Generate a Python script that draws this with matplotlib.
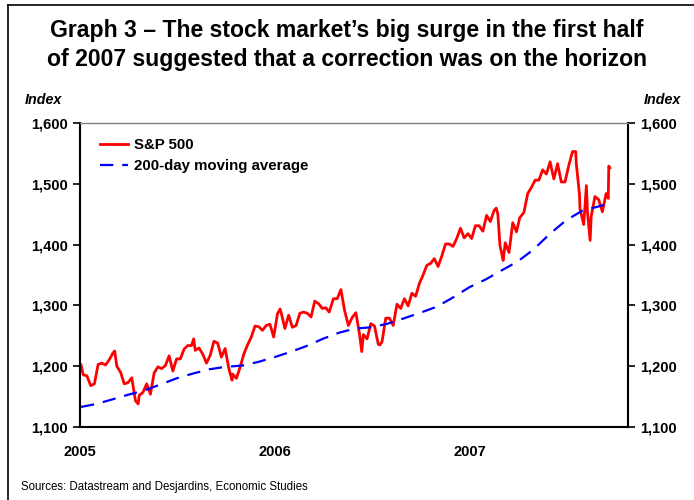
import matplotlib
matplotlib.use('Agg')
import matplotlib.pyplot as plt
from matplotlib.lines import Line2D
from matplotlib.ticker import FuncFormatter
import pandas as pd

plt.rcParams['font.family'] = ['Liberation Sans', 'DejaVu Sans']

# S&P 500 (weekly closes plus a few daily extremes)
sp_dates = [
    '2005-01-03', '2005-01-07', '2005-01-14', '2005-01-21', '2005-01-28', '2005-02-04', '2005-02-11',
    '2005-02-18', '2005-02-25', '2005-03-04', '2005-03-07', '2005-03-11', '2005-03-18', '2005-03-25',
    '2005-04-01', '2005-04-08', '2005-04-15', '2005-04-20', '2005-04-22', '2005-04-29', '2005-05-06',
    '2005-05-13', '2005-05-20', '2005-05-27', '2005-06-03', '2005-06-10', '2005-06-17', '2005-06-24',
    '2005-07-01', '2005-07-08', '2005-07-15', '2005-07-22', '2005-07-29', '2005-08-02', '2005-08-05',
    '2005-08-12', '2005-08-19', '2005-08-26', '2005-09-02', '2005-09-09', '2005-09-16', '2005-09-23',
    '2005-09-30', '2005-10-07', '2005-10-13', '2005-10-14', '2005-10-21', '2005-10-28', '2005-11-04',
    '2005-11-11', '2005-11-18', '2005-11-25', '2005-12-02', '2005-12-09', '2005-12-16', '2005-12-23',
    '2005-12-30',
    '2006-01-06', '2006-01-11', '2006-01-13', '2006-01-20', '2006-01-27', '2006-02-03', '2006-02-10',
    '2006-02-17', '2006-02-24', '2006-03-03', '2006-03-10', '2006-03-17', '2006-03-24', '2006-03-31',
    '2006-04-07', '2006-04-13', '2006-04-21', '2006-04-28', '2006-05-05', '2006-05-12', '2006-05-19',
    '2006-05-26', '2006-06-02', '2006-06-09', '2006-06-13', '2006-06-16', '2006-06-23', '2006-06-30',
    '2006-07-07', '2006-07-14', '2006-07-17', '2006-07-21', '2006-07-28', '2006-08-04', '2006-08-11',
    '2006-08-18', '2006-08-25', '2006-09-01', '2006-09-08', '2006-09-15', '2006-09-22', '2006-09-29',
    '2006-10-06', '2006-10-13', '2006-10-20', '2006-10-27', '2006-11-03', '2006-11-10', '2006-11-17',
    '2006-11-24', '2006-12-01', '2006-12-08', '2006-12-15', '2006-12-22', '2006-12-29',
    '2007-01-05', '2007-01-12', '2007-01-19', '2007-01-26', '2007-02-02', '2007-02-09', '2007-02-16',
    '2007-02-20', '2007-02-23', '2007-02-27', '2007-03-02', '2007-03-05', '2007-03-09', '2007-03-16',
    '2007-03-23', '2007-03-30', '2007-04-05', '2007-04-13', '2007-04-20', '2007-04-27', '2007-05-04',
    '2007-05-11', '2007-05-18', '2007-05-25', '2007-06-01', '2007-06-08', '2007-06-15', '2007-06-22',
    '2007-06-29', '2007-07-06', '2007-07-13', '2007-07-19', '2007-07-20', '2007-07-26', '2007-07-27',
    '2007-08-03', '2007-08-08', '2007-08-10', '2007-08-15', '2007-08-17', '2007-08-24', '2007-08-31',
    '2007-09-07', '2007-09-14', '2007-09-18', '2007-09-19', '2007-09-21',
]
sp_values = [
    1202, 1186, 1184, 1168, 1171, 1203, 1205,
    1202, 1211, 1222, 1225, 1200, 1190, 1171,
    1173, 1181, 1143, 1138, 1152, 1157, 1171,
    1154, 1189, 1199, 1196, 1201, 1217, 1192,
    1212, 1212, 1228, 1234, 1234, 1245, 1226,
    1230, 1220, 1205, 1218, 1241, 1238, 1215,
    1229, 1196, 1177, 1187, 1180, 1198, 1220,
    1235, 1248, 1266, 1265, 1259, 1267, 1269,
    1248,
    1286, 1294, 1288, 1262, 1284, 1264, 1267,
    1287, 1289, 1287, 1281, 1307, 1303, 1295,
    1296, 1289, 1311, 1311, 1326, 1291, 1267,
    1280, 1288, 1252, 1224, 1252, 1245, 1270,
    1266, 1236, 1235, 1240, 1279, 1279, 1267,
    1302, 1295, 1311, 1299, 1320, 1315, 1336,
    1350, 1366, 1369, 1377, 1364, 1381, 1401,
    1401, 1397, 1410, 1427, 1411, 1418,
    1410, 1431, 1431, 1422, 1448, 1438, 1456,
    1460, 1451, 1399, 1387, 1374, 1403, 1387,
    1436, 1421, 1444, 1453, 1484, 1494, 1506,
    1506, 1523, 1516, 1536, 1508, 1533, 1503,
    1503, 1530, 1553, 1553, 1534, 1483, 1459,
    1433, 1497, 1454, 1407, 1446, 1479, 1474,
    1454, 1484, 1476, 1529, 1526,
]

# 200-day moving average, monthly readings
ma_dates = [
    '2005-01-03', '2005-02-01', '2005-03-01', '2005-04-01', '2005-05-01', '2005-06-01', '2005-07-01',
    '2005-08-01', '2005-09-01', '2005-10-01', '2005-11-01', '2005-12-01',
    '2006-01-01', '2006-02-01', '2006-03-01', '2006-04-01', '2006-05-01', '2006-06-01', '2006-07-01',
    '2006-08-01', '2006-09-01', '2006-10-01', '2006-11-01', '2006-12-01',
    '2007-01-01', '2007-02-01', '2007-03-01', '2007-04-01', '2007-05-01', '2007-06-01', '2007-07-01',
    '2007-08-01', '2007-09-01', '2007-09-21',
]
ma_values = [
    1133, 1138, 1145, 1153, 1160, 1170, 1180,
    1188, 1195, 1199, 1201, 1207,
    1215, 1224, 1233, 1245, 1255, 1262, 1264,
    1270, 1279, 1288, 1298, 1313,
    1330, 1343, 1357, 1372, 1392, 1418, 1440,
    1456, 1463, 1468,
]

year_ticks = ['2005-01-01', '2006-01-01', '2007-01-01']
year_labels = ['2005', '2006', '2007']

fig = plt.figure(figsize=(6.94, 5), dpi=100)
ax = fig.add_axes([80 / 694, 73 / 500, 548 / 694, 304 / 500])

ax.plot(pd.to_datetime(sp_dates), sp_values, color='#ff0000', lw=2.0, label='S&P 500')
ax.plot(pd.to_datetime(ma_dates), ma_values, color='#0000ff', lw=1.6, dashes=(6, 4),
        label='200-day moving average')

ax.set_xlim(pd.Timestamp('2005-01-01'), pd.Timestamp('2007-10-25'))
ax.set_ylim(1100, 1600)
ax.set_yticks(range(1100, 1601, 100))
ax.yaxis.set_major_formatter(FuncFormatter(lambda v, p: f'{int(v):,}'))
ax.set_xticks(pd.to_datetime(year_ticks))
ax.set_xticklabels(year_labels)

ax.tick_params(axis='y', direction='out', length=5, width=1.2, left=True, right=True,
               labelleft=True, labelright=True, labelsize=10.5, pad=4)
ax.tick_params(axis='x', length=0, labelsize=10.5, pad=13)
for lab in ax.get_yticklabels() + ax.get_xticklabels():
    lab.set_fontweight('bold')

for side in ['left', 'right', 'bottom']:
    ax.spines[side].set_linewidth(1.5)
ax.spines['top'].set_color('#808080')
ax.spines['top'].set_linewidth(1.0)

leg = ax.legend(loc='upper left', bbox_to_anchor=(0.009, 1.0), frameon=False,
                handlelength=1.9, handletextpad=0.35, labelspacing=0.45,
                borderaxespad=0.6, prop={'weight': 'bold', 'size': 10.8})

fig.text(0.5, 1 - 45 / 500, 'Graph 3 \u2013 The stock market\u2019s big surge in the first half\n'
         'of 2007 suggested that a correction was on the horizon',
         ha='center', va='center', fontsize=16.6, fontweight='bold', linespacing=1.28)

fig.text(25 / 694, 1 - 100 / 500, 'Index', ha='left', va='center', fontsize=10.3,
         fontweight='bold', style='italic')
fig.text(681 / 694, 1 - 100 / 500, 'Index', ha='right', va='center', fontsize=10.3,
         fontweight='bold', style='italic')
fig.text(21 / 694, 1 - 487 / 500, 'Sources: Datastream and Desjardins, Economic Studies',
         ha='left', va='center', fontsize=8.3)

# frame lines on the left and top edges
fig.add_artist(Line2D([8 / 694, 8 / 694], [0, 1 - 5 / 500], color='black', lw=1.2))
fig.add_artist(Line2D([8 / 694, 1], [1 - 5 / 500, 1 - 5 / 500], color='black', lw=1.2))

fig.savefig('out.png', dpi=100)
